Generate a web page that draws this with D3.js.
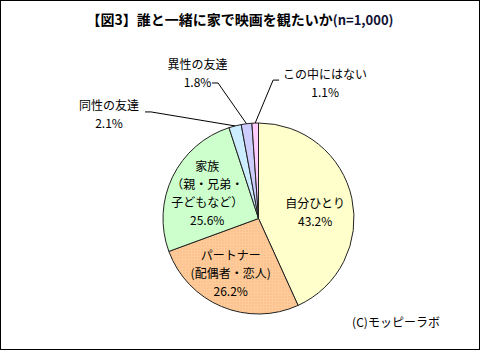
<!DOCTYPE html>
<html><head><meta charset="utf-8">
<script src="https://cdn.jsdelivr.net/npm/d3@7/dist/d3.min.js"></script>
<style>body{margin:0;background:#fff}svg{display:block}text{font-family:"Noto Sans CJK JP","Noto Sans",sans-serif}</style>
</head><body><svg id="c" width="486" height="355"></svg>
<script>
// ---- data ----
const categories = ["自分ひとり", "パートナー(配偶者・恋人)", "家族（親・兄弟・子どもなど）", "同性の友達", "異性の友達", "この中にはない"];
const labelLines = [["自分ひとり"], ["パートナー", "(配偶者・恋人)"], ["家族", "（親・兄弟・", "子どもなど）"], ["同性の友達"], ["異性の友達"], ["この中にはない"]];
const values = [43.2, 26.2, 25.6, 2.1, 1.8, 1.1];
const titleMain = "【図3】誰と一緒に家で映画を観たいか";
const titleSub = "(n=1,000)";
const credit = "(C)モッピーラボ";

// ---- styles / layout ----
const colors = ["#FFFFCC", "url(#peach)", "#CCFFCC", "#CCECFF", "#CCCCFF", "#FFCCFF"];
const cx = 258.5, cy = 218.5, R = 95.5;
// inside labels: [radius, angle shift deg]
const insideLayout = {0: [57, 6], 1: [62, 4], 2: [57, 0]};
// outside labels: [angle deg, radius, leader start dx, dy, elbow]
const outsideLayout = {3: [304.8, 182, 36, -2.7, 6], 4: [337.2, 157.3, 14.5, 9.5, 6], 5: [26.2, 150.9, -46, -3, -6]};
const lineH = 18;

const svg = d3.select("#c");
const defs = svg.append("defs");
const pat = defs.append("pattern").attr("id", "peach").attr("patternUnits", "userSpaceOnUse").attr("width", 3).attr("height", 3);
pat.append("rect").attr("width", 3).attr("height", 3).attr("fill", "#FFCC99");
pat.append("rect").attr("x", 0).attr("y", 0).attr("width", 1).attr("height", 1).attr("fill", "#E9A878");

svg.append("rect").attr("x", 0.5).attr("y", 0.5).attr("width", 479).attr("height", 349)
  .attr("fill", "#fff").attr("stroke", "#000").attr("stroke-width", 1);

const title = svg.append("text").attr("x", 240).attr("y", 25).attr("text-anchor", "middle")
  .attr("font-size", 14).attr("font-weight", "bold").attr("fill", "#000");
title.append("tspan").text(titleMain);
title.append("tspan").attr("font-size", 13).attr("fill", "#111133").text(titleSub);

const pie = d3.pie().sort(null).value(d => d)(values);
const arc = d3.arc().innerRadius(0).outerRadius(R);
const g = svg.append("g").attr("transform", `translate(${cx},${cy})`);
g.selectAll("path").data(pie).join("path")
  .attr("d", arc).attr("fill", (d, i) => colors[i])
  .attr("stroke", "#222").attr("stroke-width", 1);

const polar = (deg, r) => [r * Math.sin(deg * Math.PI / 180), -r * Math.cos(deg * Math.PI / 180)];
const fmt = v => v.toFixed(1) + "%";

pie.forEach((d, i) => {
  const mid = (d.startAngle + d.endAngle) / 2 * 180 / Math.PI;
  const lines = labelLines[i].concat([fmt(values[i])]);
  let px, py;
  if (insideLayout[i]) {
    [px, py] = polar(mid + insideLayout[i][1], insideLayout[i][0]);
  } else {
    const L = outsideLayout[i];
    [px, py] = polar(L[0], L[1]);
    const sx = px + L[2], sy = py + L[3];
    const [ex, ey] = polar(mid, R);
    g.append("polyline").attr("points", [[sx, sy], [sx + L[4], sy], [ex, ey]].map(p => p.join(",")).join(" "))
      .attr("fill", "none").attr("stroke", "#000").attr("stroke-width", 1);
  }
  const n = lines.length;
  const t = g.append("text").attr("text-anchor", "middle").attr("font-size", 12).attr("fill", "#000");
  lines.forEach((s, k) => {
    t.append("tspan").attr("x", px).attr("y", py + (k - (n - 1) / 2) * lineH + 4.5).text(s);
  });
});

svg.append("text").attr("x", 396).attr("y", 327).attr("text-anchor", "middle")
  .attr("font-size", 12).attr("fill", "#000").text(credit);
</script></body></html>
